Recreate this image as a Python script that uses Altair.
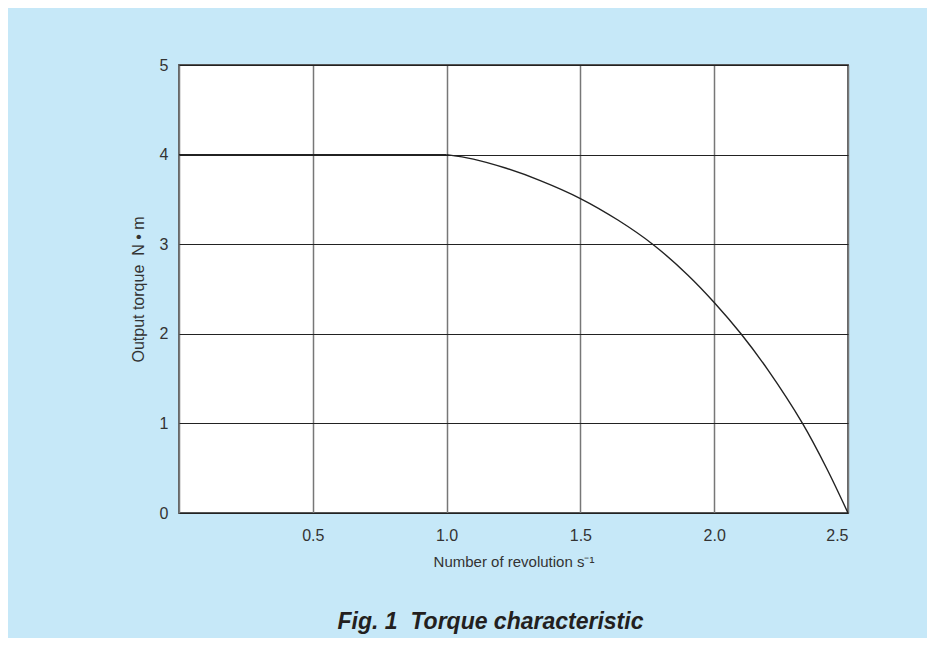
import altair as alt
import pandas as pd

# Data
revolution = [0.0, 0.5, 1.0, 1.0, 1.1, 1.22, 1.35, 1.5, 1.64, 1.77, 1.9, 2.0, 2.1, 2.2, 2.33, 2.42, 2.5]
torque = [4.0, 4.0, 4.0, 4.0, 3.95, 3.85, 3.71, 3.51, 3.27, 3.0, 2.66, 2.35, 2.0, 1.6, 1.0, 0.5, 0.0]
segment = ["flat", "flat", "flat", "drop", "drop", "drop", "drop", "drop", "drop",
           "drop", "drop", "drop", "drop", "drop", "drop", "drop", "drop"]
x_ticks = [0, 0.5, 1.0, 1.5, 2.0, 2.5]
y_ticks = [0, 1, 2, 3, 4, 5]

df = pd.DataFrame({"n": revolution, "T": torque, "seg": segment})

FONT = "Liberation Sans"

chart = (
    alt.Chart(df)
    .mark_line(color="#222222", strokeWidth=1.4, interpolate="catmull-rom")
    .encode(
        x=alt.X(
            "n:Q",
            scale=alt.Scale(domain=[0, 2.5], nice=False, zero=True),
            axis=alt.Axis(
                values=x_ticks,
                format=".1f",
                labelExpr="datum.value == 0 ? '' : datum.label",
                title="Number of revolution s\u207b\u00b9",
                grid=True,
                gridColor="#777777",
                gridWidth=1.5,
                ticks=False,
                domain=False,
                labelPadding=14,
                titlePadding=11,
                labelFontSize=16,
                titleFontSize=15,
            ),
        ),
        y=alt.Y(
            "T:Q",
            scale=alt.Scale(domain=[0, 5], nice=False),
            axis=alt.Axis(
                values=y_ticks,
                format="d",
                title="Output torque\u00a0\u00a0N \u2022 m",
                grid=True,
                gridColor="#222222",
                gridWidth=1,
                ticks=False,
                domain=False,
                labelPadding=11,
                titlePadding=13,
                labelFontSize=16,
                titleFontSize=16,
            ),
        ),
        detail="seg:N",
    )
    .properties(
        width=669,
        height=448,
        autosize=alt.AutoSizeParams(type="none"),
        padding={"left": 171, "top": 57, "right": 79, "bottom": 125},
        background="#c6e8f8",
        title=alt.TitleParams(
            text="Fig. 1\u00a0\u00a0Torque characteristic",
            orient="bottom",
            anchor="middle",
            font=FONT,
            fontSize=23,
            fontWeight="bold",
            fontStyle="italic",
            color="#231f20",
            offset=42,
            dx=-23,
        ),
    )
    .configure_view(fill="white", stroke="#555555", strokeWidth=1.8)
    .configure_axis(
        labelFont=FONT,
        titleFont=FONT,
        labelColor="#333333",
        titleColor="#333333",
        titleFontWeight="normal",
    )
)

chart.save("out.html", embed_options={"renderer": "svg", "actions": False})
